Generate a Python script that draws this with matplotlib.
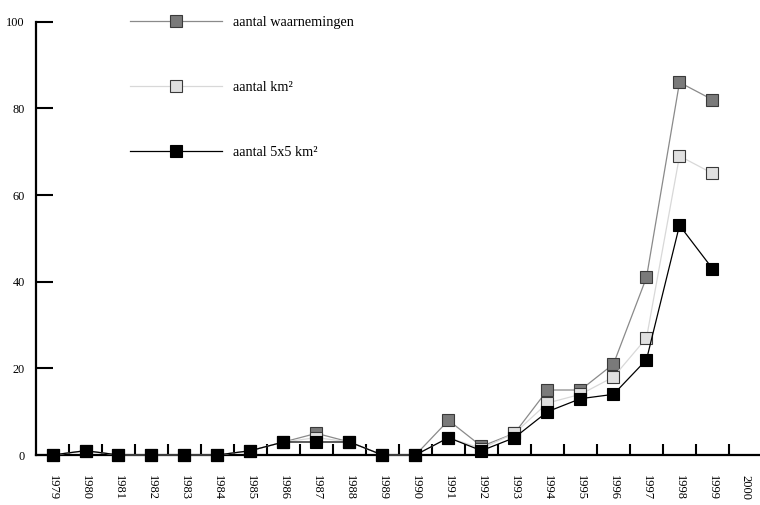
import numpy as np
import matplotlib
matplotlib.use("Agg")
import matplotlib.pyplot as plt

plt.rcParams["font.family"] = ["Liberation Serif", "DejaVu Serif"]

years = [str(y) for y in range(1979, 2001)]
waarnemingen = [0, 1, 0, 0, 0, 0, 1, 3, 5, 3, 0, 0, 8, 2, 5, 15, 15, 21, 41, 86, 82]
km2 = [0, 1, 0, 0, 0, 0, 1, 3, 4, 3, 0, 0, 4, 1.5, 5, 12, 14, 18, 27, 69, 65]
km2_5x5 = [0, 1, 0, 0, 0, 0, 1, 3, 3, 3, 0, 0, 4, 1, 4, 10, 13, 14, 22, 53, 43]
yticks = [0, 20, 40, 60, 80, 100]

series = [
    (waarnemingen, "aantal waarnemingen", "#8a8a8a", "#7a7a7a", "#3a3a3a"),
    (km2, "aantal km\u00b2", "#d8d8d8", "#e0e0e0", "#3a3a3a"),
    (km2_5x5, "aantal 5x5 km\u00b2", "#000000", "#000000", "#000000"),
]

fig = plt.figure(figsize=(7.6, 5.05), dpi=100)
ax = fig.add_axes([36 / 760, 50 / 505, 726 / 760, 433.3 / 505])

for vals, label, lc, fc, ec in series:
    x = np.arange(len(vals))
    ax.plot(x, vals, color=lc, lw=0.9, marker="s", markersize=9,
            markerfacecolor=fc, markeredgecolor=ec, markeredgewidth=0.8,
            label=label, clip_on=False, zorder=3)

ax.set_xlim(-0.5, len(years) - 0.5)
ax.set_ylim(0, 100)

for s in ["top", "right"]:
    ax.spines[s].set_visible(False)
for s in ["left", "bottom"]:
    ax.spines[s].set_linewidth(1.6)

ax.set_yticks(yticks)
ax.set_yticklabels([str(v) for v in yticks])
ax.tick_params(axis="y", direction="in", length=12.5, width=1.5, pad=8, labelsize=8.8)

ax.set_xticks(np.arange(len(years)))
ax.set_xticklabels(years, rotation=270)
ax.set_xticks(np.arange(len(years) - 1) + 0.5, minor=True)
ax.tick_params(axis="x", which="major", length=0, pad=14.5, labelsize=9)
ax.tick_params(axis="x", which="minor", direction="in", length=8, width=1.5)

ax.legend(loc="upper left", bbox_to_anchor=(130 / 760, 1 - 16 / 505),
          bbox_transform=fig.transFigure, frameon=False, borderpad=0,
          borderaxespad=0, handlelength=6.4, handletextpad=0.78,
          labelspacing=3.65, numpoints=1, fontsize=10.3)

fig.savefig("out.png", dpi=100)
